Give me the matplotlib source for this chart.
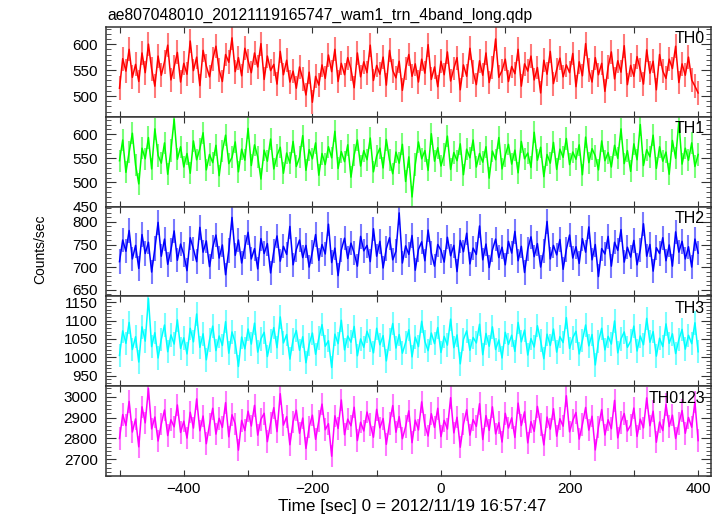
import numpy as np
import matplotlib.pyplot as plt
from matplotlib.ticker import MultipleLocator, FuncFormatter

plt.rcParams['font.family'] = ['Liberation Sans', 'DejaVu Sans']

title = "ae807048010_20121119165747_wam1_trn_4band_long.qdp"
names = ['TH0', 'TH1', 'TH2', 'TH3', 'TH0123']
colors = ['#ff0000', '#00ff00', '#0000ff', '#00ffff', '#ff00ff']
light_colors = ['#ff7a7a', '#7aff7a', '#7a7aff', '#7affff', '#ff7aff']

# counts/sec, one value every ~5 s from -500 to 400
th0 = [515, 572, 548, 590, 536, 561, 528, 583, 545, 600, 552, 519, 577, 540, 566, 598, 531, 556, 584, 527,
       563, 542, 606, 549, 575, 520, 588, 558, 537, 571, 596, 550, 528, 580, 565, 612, 547, 574, 539, 592,
       568, 545, 583, 556, 601, 532, 577, 549, 561, 523, 586, 541, 569, 527, 548, 515, 556, 533, 502, 546,
       488, 538, 521, 560, 534, 579, 547, 590, 528, 563, 541, 574, 552, 516, 583, 537, 566, 545, 598, 530,
       559, 542, 575, 521, 588, 549, 535, 567, 511, 553, 580, 538, 562, 527, 571, 544, 599, 532, 556, 518,
       567, 541, 585, 529, 553, 574, 512, 560, 538, 592, 547, 522, 568, 540, 583, 526, 555, 610, 536, 549,
       571, 528, 557, 543, 590, 519, 562, 548, 577, 531, 555, 506, 569, 542, 586, 524, 551, 573, 537, 560,
       545, 582, 518, 566, 539, 601, 550, 527, 574, 541, 563, 509, 556, 585, 533, 568, 546, 597, 522, 559,
       538, 576, 551, 523, 589, 544, 567, 512, 580, 548, 534, 571, 553, 596, 526, 562, 540, 575, 531, 519, 506]

th1 = [545, 588, 521, 563, 602, 536, 497, 571, 549, 593, 528, 611, 556, 540, 582, 517, 566, 631, 548, 574,
       532, 560, 519, 586, 547, 570, 603, 526, 558, 541, 577, 514, 565, 598, 539, 552, 584, 522, 569, 546,
       612, 535, 578, 553, 507, 567, 544, 590, 528, 556, 573, 519, 561, 540, 585, 533, 552, 597, 525, 568,
       549, 582, 515, 560, 537, 574, 551, 606, 529, 564, 543, 578, 511, 557, 588, 534, 566, 547, 592, 522,
       555, 571, 530, 589, 546, 518, 563, 540, 579, 502, 553, 470, 537, 584, 549, 566, 525, 601, 544, 572,
       534, 558, 596, 527, 562, 545, 580, 516, 569, 551, 588, 532, 560, 542, 574, 509, 565, 547, 593, 528,
       556, 579, 538, 567, 520, 585, 549, 561, 531, 604, 546, 573, 512, 558, 540, 583, 527, 569, 552, 591,
       537, 563, 548, 578, 516, 594, 541, 570, 555, 526, 586, 545, 562, 532, 577, 550, 611, 539, 566, 523,
       580, 547, 620, 535, 568, 553, 598, 529, 574, 544, 563, 517, 587, 550, 626, 538, 571, 546, 582, 533, 558]

th2 = [712, 760, 735, 781, 718, 748, 697, 772, 730, 755, 689, 741, 799, 724, 762, 706, 738, 780, 715, 751,
       728, 692, 765, 740, 712, 788, 733, 758, 701, 744, 771, 720, 749, 683, 737, 810, 726, 760, 709, 745,
       777, 718, 741, 696, 763, 730, 752, 687, 735, 769, 713, 746, 728, 790, 705, 739, 760, 721, 748, 700,
       734, 772, 715, 750, 729, 795, 710, 742, 681, 738, 764, 719, 753, 731, 702, 768, 736, 748, 712, 785,
       724, 757, 698, 741, 765, 716, 735, 820, 709, 747, 728, 770, 693, 739, 756, 714, 782, 731, 702, 750,
       737, 711, 766, 725, 748, 690, 759, 734, 775, 707, 742, 728, 791, 716, 751, 699, 738, 762, 721, 744,
       705, 757, 731, 779, 714, 746, 688, 740, 767, 723, 752, 700, 736, 801, 718, 748, 727, 761, 695, 739,
       771, 720, 745, 708, 763, 733, 789, 716, 750, 679, 741, 729, 768, 702, 755, 737, 783, 711, 744, 722,
       759, 705, 738, 796, 724, 750, 691, 743, 730, 765, 714, 749, 702, 778, 733, 757, 718, 745, 700, 762, 731]

th3 = [1005, 1072, 1038, 1095, 1021, 1056, 987, 1083, 1044, 1160, 1029, 1067, 998, 1049, 1088, 1015, 1061, 1036, 1102, 1024,
       1053, 1009, 1079, 1042, 1118, 1027, 1064, 993, 1047, 1085, 1018, 1058, 1032, 1097, 1011, 1069, 1040, 975, 1055, 1023,
       1077, 1036, 1093, 1014, 1050, 1068, 1002, 1044, 1081, 1026, 1110, 1039, 1062, 995, 1048, 1073, 1019, 1056, 985, 1035,
       1066, 1008, 1052, 1089, 1030, 1045, 972, 1063, 1037, 1101, 1020, 1058, 1041, 1084, 1004, 1050, 1027, 1071, 1046, 1012,
       1079, 1034, 1059, 990, 1048, 1092, 1025, 1062, 1011, 1040, 1075, 1001, 1055, 1029, 1098, 1043, 1018, 1066, 1037, 1081,
       1013, 1057, 1033, 1104, 1026, 1061, 982, 1049, 1072, 1019, 1054, 1039, 1090, 1007, 1065, 1030, 1083, 1021, 1047, 998,
       1068, 1035, 1060, 1016, 1095, 1042, 1074, 1006, 1051, 1028, 1086, 1045, 996, 1063, 1032, 1077, 1014, 1056, 1040, 1108,
       1024, 1053, 1071, 1009, 1046, 1088, 1031, 1062, 979, 1043, 1079, 1020, 1057, 1036, 1099, 1012, 1050, 1069, 1027, 1044,
       1085, 1017, 1058, 1034, 1106, 1041, 1070, 1003, 1052, 1029, 1091, 1038, 1064, 1010, 1048, 1076, 1022, 1060, 1037, 1094, 1015]

th0123 = [2800, 2915, 2862, 2978, 2831, 2894, 2760, 2952, 2875, 3040, 2846, 2903, 2788, 2869, 2937, 2814, 2890, 2856, 2961, 2829,
          2883, 2802, 2926, 2850, 2990, 2837, 2908, 2775, 2866, 2945, 2821, 2897, 2853, 2972, 2808, 2914, 2870, 2744, 2887, 2838,
          2931, 2860, 2959, 2816, 2892, 2921, 2785, 2874, 2948, 2833, 3015, 2864, 2905, 2770, 2880, 2936, 2825, 2898, 2752, 2855,
          2912, 2796, 2884, 2965, 2842, 2871, 2715, 2909, 2848, 2985, 2818, 2893, 2861, 2950, 2790, 2878, 2836, 2927, 2868, 2806,
          2940, 2851, 2896, 2772, 2873, 2958, 2830, 2905, 2799, 2857, 2933, 2780, 2888, 2841, 2976, 2864, 2812, 2919, 2853, 2945,
          2809, 2887, 2845, 2996, 2827, 2902, 2758, 2869, 2938, 2816, 2891, 2858, 2967, 2795, 2910, 2839, 2952, 2822, 2876, 2783,
          2921, 2850, 2899, 2805, 2970, 2862, 2928, 2779, 2881, 2834, 2954, 2866, 2769, 2903, 2845, 2943, 2811, 2895, 2859, 3005,
          2832, 2886, 2925, 2797, 2868, 2949, 2840, 2907, 2745, 2856, 2939, 2817, 2890, 2847, 2983, 2803, 2877, 2920, 2836, 2864,
          2946, 2810, 2893, 2851, 2995, 2861, 2931, 2782, 2879, 2838, 2963, 2857, 2912, 2800, 2872, 2934, 2825, 2901, 2854, 2975, 2790]

# typical error bar per band
errors = [23, 23, 27, 32, 54]

series = [th0, th1, th2, th3, th0123]
ylims = [(460, 633), (450, 636), (635, 834), (921, 1166), (2620, 3051)]
ymajor = [50, 50, 50, 50, 100]
yminor = [10, 10, 10, 10, 20]

fig = plt.figure(figsize=(7.24, 5.16), dpi=100)

# panels stacked with no gap
left, right = 106 / 724, 711 / 724
top, bottom = 1 - 27 / 516, 1 - 476 / 516
h = (top - bottom) / 5

for i in range(5):
    ax = fig.add_axes([left, top - (i + 1) * h, right - left, h])
    values = np.array(series[i], dtype=float)
    t = np.linspace(-500, 400, len(values))
    ax.errorbar(t, values, yerr=errors[i], fmt='none', ecolor=light_colors[i], elinewidth=1.5)
    ax.plot(t, values, color=colors[i], lw=1.1)

    ax.set_xlim(-521, 420)
    ax.set_ylim(*ylims[i])
    ax.xaxis.set_major_locator(MultipleLocator(100))
    ax.yaxis.set_major_locator(MultipleLocator(ymajor[i]))
    ax.yaxis.set_minor_locator(MultipleLocator(yminor[i]))

    ax.tick_params(axis='both', which='both', direction='in', top=True, right=True,
                   color='#333333', labelsize=11)
    ax.tick_params(axis='y', which='major', length=7, pad=6)
    ax.tick_params(axis='y', which='minor', length=3.5)
    ax.tick_params(axis='x', which='major', length=4.5, pad=4)
    for s in ax.spines.values():
        s.set_color('#333333')
        s.set_linewidth(1.1)

    ax.text(0.99, 0.95, names[i], transform=ax.transAxes, ha='right', va='top', fontsize=11.5)

    if i < 4:
        ax.tick_params(axis='x', labelbottom=False)
    else:
        ax.xaxis.set_major_formatter(FuncFormatter(
            lambda v, p: ('%d' % v).replace('-', '\u2212') if round(v) % 200 == 0 else ''))

# titre et étiquettes
fig.text(107 / 724, 1 - 15 / 516, title, ha='left', va='center', fontsize=11.3)
fig.text(40 / 724, 1 - 249 / 516, 'Counts/sec', rotation=90, ha='center', va='center', fontsize=10)
fig.text(412 / 724, 1 - 507 / 516, 'Time [sec] 0 = 2012/11/19 16:57:47', ha='center', va='center', fontsize=12.3)

fig.savefig('out.png', dpi=100)
